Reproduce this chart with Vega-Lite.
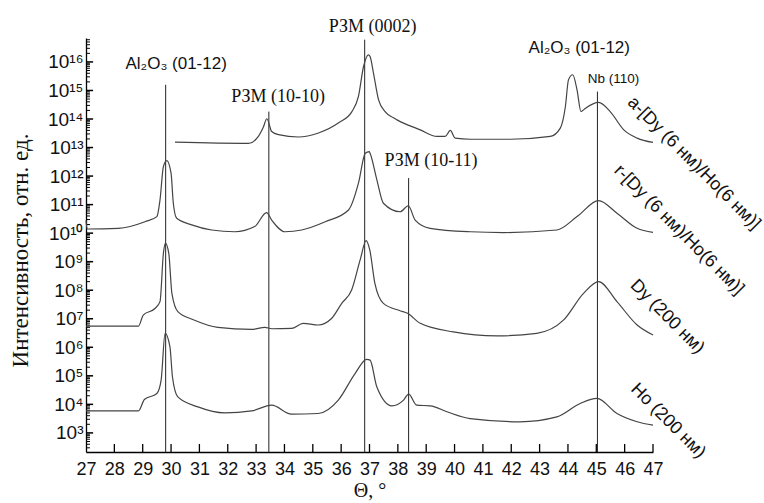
{
  "$schema": "https://vega.github.io/schema/vega-lite/v6.json",
  "width": 567,
  "height": 414,
  "autosize": "none",
  "padding": {"left": 86, "top": 38, "right": 111, "bottom": 51},
  "background": "white",
  "config": {
    "view": {"stroke": null},
    "axis": {"grid": false, "domain": true, "domainColor": "#000", "labelColor": "#111", "titleColor": "#111", "domainWidth": 1.3}
  },
  "datasets": {
    "curves": [
      {"s": "a", "x": 30.14, "y": 1.55e13}, {"s": "a", "x": 32.73, "y": 1.41e13}, {"s": "a", "x": 33.08, "y": 2.45e13},
      {"s": "a", "x": 33.25, "y": 5.0e13}, {"s": "a", "x": 33.38, "y": 1.02e14}, {"s": "a", "x": 33.55, "y": 3.63e13},
      {"s": "a", "x": 33.79, "y": 2.82e13}, {"s": "a", "x": 34.49, "y": 2.34e13}, {"s": "a", "x": 35.2, "y": 3.24e13},
      {"s": "a", "x": 35.9, "y": 7.24e13}, {"s": "a", "x": 36.38, "y": 1.82e14}, {"s": "a", "x": 36.61, "y": 6.17e14},
      {"s": "a", "x": 36.79, "y": 6.92e15}, {"s": "a", "x": 36.96, "y": 1.78e16}, {"s": "a", "x": 37.02, "y": 1.55e16},
      {"s": "a", "x": 37.14, "y": 4.07e15}, {"s": "a", "x": 37.32, "y": 4.68e14}, {"s": "a", "x": 37.55, "y": 1.82e14},
      {"s": "a", "x": 37.83, "y": 1.12e14}, {"s": "a", "x": 37.97, "y": 9.33e13}, {"s": "a", "x": 38.79, "y": 4.17e13},
      {"s": "a", "x": 39.38, "y": 2.45e13}, {"s": "a", "x": 39.67, "y": 2.45e13}, {"s": "a", "x": 39.85, "y": 3.98e13},
      {"s": "a", "x": 40.02, "y": 2.14e13}, {"s": "a", "x": 40.55, "y": 1.95e13}, {"s": "a", "x": 41.97, "y": 1.95e13},
      {"s": "a", "x": 43.38, "y": 2.45e13}, {"s": "a", "x": 43.73, "y": 4.79e13}, {"s": "a", "x": 43.91, "y": 2.75e14},
      {"s": "a", "x": 44.02, "y": 2.4e15}, {"s": "a", "x": 44.17, "y": 3.55e15}, {"s": "a", "x": 44.32, "y": 1.05e15},
      {"s": "a", "x": 44.46, "y": 1.82e14}, {"s": "a", "x": 44.62, "y": 2.4e14}, {"s": "a", "x": 45.08, "y": 3.8e14},
      {"s": "a", "x": 45.49, "y": 1.82e14}, {"s": "a", "x": 45.97, "y": 4.17e13}, {"s": "a", "x": 46.44, "y": 2.14e13},
      {"s": "a", "x": 47.0, "y": 1.51e13},

      {"s": "r", "x": 27.0, "y": 2.8e10}, {"s": "r", "x": 27.04, "y": 1.4e10}, {"s": "r", "x": 28.14, "y": 1.48e10},
      {"s": "r", "x": 29.08, "y": 2.51e10}, {"s": "r", "x": 29.5, "y": 3.8e10}, {"s": "r", "x": 29.61, "y": 1.45e11},
      {"s": "r", "x": 29.73, "y": 2.14e12}, {"s": "r", "x": 29.85, "y": 3.47e12}, {"s": "r", "x": 30.0, "y": 1.26e12},
      {"s": "r", "x": 30.08, "y": 1.12e11}, {"s": "r", "x": 30.2, "y": 3.31e10}, {"s": "r", "x": 30.73, "y": 1.95e10},
      {"s": "r", "x": 31.43, "y": 1.29e10}, {"s": "r", "x": 32.25, "y": 1.12e10}, {"s": "r", "x": 32.95, "y": 1.7e10},
      {"s": "r", "x": 33.37, "y": 5.25e10}, {"s": "r", "x": 33.55, "y": 2.88e10}, {"s": "r", "x": 34.02, "y": 1.12e10},
      {"s": "r", "x": 34.61, "y": 1.29e10}, {"s": "r", "x": 35.44, "y": 2.51e10}, {"s": "r", "x": 36.26, "y": 6.46e10},
      {"s": "r", "x": 36.61, "y": 5.62e11}, {"s": "r", "x": 36.85, "y": 6.31e12}, {"s": "r", "x": 36.99, "y": 7.24e12},
      {"s": "r", "x": 37.02, "y": 6.31e12}, {"s": "r", "x": 37.26, "y": 7.41e11}, {"s": "r", "x": 37.49, "y": 1.12e11},
      {"s": "r", "x": 38.08, "y": 5.62e10}, {"s": "r", "x": 38.37, "y": 9.12e10}, {"s": "r", "x": 38.61, "y": 2.88e10},
      {"s": "r", "x": 39.14, "y": 1.48e10}, {"s": "r", "x": 40.55, "y": 1.12e10}, {"s": "r", "x": 41.73, "y": 1.05e10},
      {"s": "r", "x": 43.61, "y": 1.29e10}, {"s": "r", "x": 44.32, "y": 3.8e10}, {"s": "r", "x": 45.08, "y": 1.38e11},
      {"s": "r", "x": 45.73, "y": 5.01e10}, {"s": "r", "x": 46.44, "y": 1.48e10}, {"s": "r", "x": 47.0, "y": 1.07e10},

      {"s": "dy", "x": 27.0, "y": 5.5e6}, {"s": "dy", "x": 28.85, "y": 5.5e6}, {"s": "dy", "x": 29.02, "y": 1.35e7},
      {"s": "dy", "x": 29.43, "y": 2.29e7}, {"s": "dy", "x": 29.61, "y": 3.98e7}, {"s": "dy", "x": 29.73, "y": 1.95e9},
      {"s": "dy", "x": 29.8, "y": 4.47e9}, {"s": "dy", "x": 29.92, "y": 1.95e9}, {"s": "dy", "x": 30.03, "y": 7.76e7},
      {"s": "dy", "x": 30.24, "y": 1.78e7}, {"s": "dy", "x": 30.83, "y": 8.91e6}, {"s": "dy", "x": 31.65, "y": 5.01e6},
      {"s": "dy", "x": 32.84, "y": 4.27e6}, {"s": "dy", "x": 33.31, "y": 5.01e6}, {"s": "dy", "x": 33.55, "y": 4.47e6},
      {"s": "dy", "x": 34.25, "y": 4.57e6}, {"s": "dy", "x": 34.66, "y": 6.92e6}, {"s": "dy", "x": 35.19, "y": 6.03e6},
      {"s": "dy", "x": 35.66, "y": 1.02e7}, {"s": "dy", "x": 36.02, "y": 3.47e7}, {"s": "dy", "x": 36.37, "y": 1.02e8},
      {"s": "dy", "x": 36.67, "y": 1.15e9}, {"s": "dy", "x": 36.88, "y": 5.5e9}, {"s": "dy", "x": 37.01, "y": 2.57e9},
      {"s": "dy", "x": 37.19, "y": 1.74e8}, {"s": "dy", "x": 37.49, "y": 3.47e7}, {"s": "dy", "x": 38.08, "y": 1.91e7},
      {"s": "dy", "x": 38.34, "y": 1.55e7}, {"s": "dy", "x": 38.79, "y": 6.92e6}, {"s": "dy", "x": 39.96, "y": 3.47e6},
      {"s": "dy", "x": 41.49, "y": 2.51e6}, {"s": "dy", "x": 42.9, "y": 3.09e6}, {"s": "dy", "x": 43.84, "y": 8.91e6},
      {"s": "dy", "x": 44.55, "y": 7.76e7}, {"s": "dy", "x": 45.08, "y": 2.0e8}, {"s": "dy", "x": 45.73, "y": 3.98e7},
      {"s": "dy", "x": 46.44, "y": 6.03e6}, {"s": "dy", "x": 47.0, "y": 2.69e6},

      {"s": "ho", "x": 27.0, "y": 5.89e3}, {"s": "ho", "x": 28.85, "y": 5.89e3}, {"s": "ho", "x": 29.06, "y": 1.48e4},
      {"s": "ho", "x": 29.5, "y": 2.4e4}, {"s": "ho", "x": 29.65, "y": 7.08e4}, {"s": "ho", "x": 29.79, "y": 3.09e6},
      {"s": "ho", "x": 29.96, "y": 1.05e6}, {"s": "ho", "x": 30.05, "y": 9.12e4}, {"s": "ho", "x": 30.24, "y": 1.82e4},
      {"s": "ho", "x": 30.95, "y": 8.13e3}, {"s": "ho", "x": 31.89, "y": 5.01e3}, {"s": "ho", "x": 32.84, "y": 5.89e3},
      {"s": "ho", "x": 33.55, "y": 9.33e3}, {"s": "ho", "x": 34.25, "y": 4.57e3}, {"s": "ho", "x": 35.19, "y": 4.79e3},
      {"s": "ho", "x": 35.9, "y": 1.41e4}, {"s": "ho", "x": 36.49, "y": 1.2e5}, {"s": "ho", "x": 36.9, "y": 3.8e5},
      {"s": "ho", "x": 37.02, "y": 3.55e5}, {"s": "ho", "x": 37.26, "y": 4.07e4}, {"s": "ho", "x": 37.79, "y": 8.91e3},
      {"s": "ho", "x": 38.2, "y": 1.41e4}, {"s": "ho", "x": 38.38, "y": 2.29e4}, {"s": "ho", "x": 38.67, "y": 9.33e3},
      {"s": "ho", "x": 39.14, "y": 8.91e3}, {"s": "ho", "x": 39.73, "y": 5.5e3}, {"s": "ho", "x": 40.55, "y": 3.16e3},
      {"s": "ho", "x": 42.31, "y": 2.45e3}, {"s": "ho", "x": 43.61, "y": 3.63e3}, {"s": "ho", "x": 44.43, "y": 1.07e4},
      {"s": "ho", "x": 45.02, "y": 1.62e4}, {"s": "ho", "x": 45.73, "y": 4.79e3}, {"s": "ho", "x": 46.44, "y": 2.45e3},
      {"s": "ho", "x": 47.0, "y": 1.86e3}
    ],
    "lines": [
      {"x": 29.81, "y": 1.58e15},
      {"x": 33.45, "y": 1.82e14},
      {"x": 36.83, "y": 6.03e16},
      {"x": 38.38, "y": 8.51e11},
      {"x": 45.04, "y": 9.12e14}
    ],
    "xticks": [
      {"x": 28, "y": 214}, {"x": 29, "y": 214}, {"x": 30, "y": 214}, {"x": 31, "y": 214}, {"x": 32, "y": 214},
      {"x": 33, "y": 214}, {"x": 34, "y": 214}, {"x": 35, "y": 214}, {"x": 36, "y": 214}, {"x": 37, "y": 214},
      {"x": 38, "y": 214}, {"x": 39, "y": 214}, {"x": 40, "y": 214}, {"x": 41, "y": 214}, {"x": 42, "y": 214},
      {"x": 43, "y": 214}, {"x": 44, "y": 214}, {"x": 45, "y": 214}, {"x": 46, "y": 214}, {"x": 47, "y": 214}
    ],
    "ymajor": [
      {"x": 27, "y": 1e3}, {"x": 27, "y": 1e4}, {"x": 27, "y": 1e5}, {"x": 27, "y": 1e6}, {"x": 27, "y": 1e7},
      {"x": 27, "y": 1e8}, {"x": 27, "y": 1e9}, {"x": 27, "y": 1e10}, {"x": 27, "y": 1e11}, {"x": 27, "y": 1e12},
      {"x": 27, "y": 1e13}, {"x": 27, "y": 1e14}, {"x": 27, "y": 1e15}, {"x": 27, "y": 1e16}
    ],
    "yminor": [
      {"x": 27, "y": 3e2}, {"x": 27, "y": 4e2}, {"x": 27, "y": 5e2}, {"x": 27, "y": 6e2}, {"x": 27, "y": 7e2}, {"x": 27, "y": 8e2}, {"x": 27, "y": 9e2},
      {"x": 27, "y": 2e3}, {"x": 27, "y": 3e3}, {"x": 27, "y": 4e3}, {"x": 27, "y": 5e3}, {"x": 27, "y": 6e3}, {"x": 27, "y": 7e3}, {"x": 27, "y": 8e3}, {"x": 27, "y": 9e3},
      {"x": 27, "y": 2e4}, {"x": 27, "y": 3e4}, {"x": 27, "y": 4e4}, {"x": 27, "y": 5e4}, {"x": 27, "y": 6e4}, {"x": 27, "y": 7e4}, {"x": 27, "y": 8e4}, {"x": 27, "y": 9e4},
      {"x": 27, "y": 2e5}, {"x": 27, "y": 3e5}, {"x": 27, "y": 4e5}, {"x": 27, "y": 5e5}, {"x": 27, "y": 6e5}, {"x": 27, "y": 7e5}, {"x": 27, "y": 8e5}, {"x": 27, "y": 9e5},
      {"x": 27, "y": 2e6}, {"x": 27, "y": 3e6}, {"x": 27, "y": 4e6}, {"x": 27, "y": 5e6}, {"x": 27, "y": 6e6}, {"x": 27, "y": 7e6}, {"x": 27, "y": 8e6}, {"x": 27, "y": 9e6},
      {"x": 27, "y": 2e7}, {"x": 27, "y": 3e7}, {"x": 27, "y": 4e7}, {"x": 27, "y": 5e7}, {"x": 27, "y": 6e7}, {"x": 27, "y": 7e7}, {"x": 27, "y": 8e7}, {"x": 27, "y": 9e7},
      {"x": 27, "y": 2e8}, {"x": 27, "y": 3e8}, {"x": 27, "y": 4e8}, {"x": 27, "y": 5e8}, {"x": 27, "y": 6e8}, {"x": 27, "y": 7e8}, {"x": 27, "y": 8e8}, {"x": 27, "y": 9e8},
      {"x": 27, "y": 2e9}, {"x": 27, "y": 3e9}, {"x": 27, "y": 4e9}, {"x": 27, "y": 5e9}, {"x": 27, "y": 6e9}, {"x": 27, "y": 7e9}, {"x": 27, "y": 8e9}, {"x": 27, "y": 9e9},
      {"x": 27, "y": 2e10}, {"x": 27, "y": 3e10}, {"x": 27, "y": 4e10}, {"x": 27, "y": 5e10}, {"x": 27, "y": 6e10}, {"x": 27, "y": 7e10}, {"x": 27, "y": 8e10}, {"x": 27, "y": 9e10},
      {"x": 27, "y": 2e11}, {"x": 27, "y": 3e11}, {"x": 27, "y": 4e11}, {"x": 27, "y": 5e11}, {"x": 27, "y": 6e11}, {"x": 27, "y": 7e11}, {"x": 27, "y": 8e11}, {"x": 27, "y": 9e11},
      {"x": 27, "y": 2e12}, {"x": 27, "y": 3e12}, {"x": 27, "y": 4e12}, {"x": 27, "y": 5e12}, {"x": 27, "y": 6e12}, {"x": 27, "y": 7e12}, {"x": 27, "y": 8e12}, {"x": 27, "y": 9e12},
      {"x": 27, "y": 2e13}, {"x": 27, "y": 3e13}, {"x": 27, "y": 4e13}, {"x": 27, "y": 5e13}, {"x": 27, "y": 6e13}, {"x": 27, "y": 7e13}, {"x": 27, "y": 8e13}, {"x": 27, "y": 9e13},
      {"x": 27, "y": 2e14}, {"x": 27, "y": 3e14}, {"x": 27, "y": 4e14}, {"x": 27, "y": 5e14}, {"x": 27, "y": 6e14}, {"x": 27, "y": 7e14}, {"x": 27, "y": 8e14}, {"x": 27, "y": 9e14},
      {"x": 27, "y": 2e15}, {"x": 27, "y": 3e15}, {"x": 27, "y": 4e15}, {"x": 27, "y": 5e15}, {"x": 27, "y": 6e15}, {"x": 27, "y": 7e15}, {"x": 27, "y": 8e15}, {"x": 27, "y": 9e15},
      {"x": 27, "y": 2e16}, {"x": 27, "y": 3e16}, {"x": 27, "y": 4e16}, {"x": 27, "y": 5e16}, {"x": 27, "y": 6e16}
    ],
    "labels": [
      {"k": "sans", "label": "Al₂O₃ (01-12)", "x": 30.18, "y": 8.51e15},
      {"k": "serif", "label": "РЗМ (10-10)", "x": 33.78, "y": 5.75e14},
      {"k": "serif", "label": "РЗМ (0002)", "x": 37.11, "y": 1.66e17},
      {"k": "serif", "label": "РЗМ (10-11)", "x": 39.17, "y": 3.47e12},
      {"k": "sans", "label": "Al₂O₃ (01-12)", "x": 44.40, "y": 3.16e16},
      {"k": "small", "label": "Nb (110)", "x": 45.61, "y": 2.57e15},
      {"k": "rot", "label": "a-[Dy (6 нм)/Ho(6 нм)]", "x": 48.44, "y": 2.82e12},
      {"k": "rot", "label": "r-[Dy (6 нм)/Ho(6 нм)]", "x": 47.91, "y": 1.29e10},
      {"k": "rot", "label": "Dy (200 нм)", "x": 47.5, "y": 1.17e7},
      {"k": "rot", "label": "Ho (200 нм)", "x": 47.53, "y": 2.63e3}
    ]
  },
  "encoding": {
    "x": {
      "field": "x", "type": "quantitative",
      "scale": {"domain": [27, 47], "nice": false, "zero": false},
      "axis": {
        "title": "Θ, °",
        "titleFont": "Liberation Serif", "titleFontSize": 20, "titleFontWeight": "normal",
        "titleY": 38, "titleBaseline": "middle",
        "values": [27,28,29,30,31,32,33,34,35,36,37,38,39,40,41,42,43,44,45,46,47],
        "format": "d",
        "ticks": false,
        "labelPadding": 8,
        "labelFont": "Liberation Sans", "labelFontSize": 18,
        "labelOverlap": false, "labelFlush": false
      }
    },
    "y": {
      "field": "y", "type": "quantitative",
      "scale": {"type": "log", "domain": [214, 6.9e16], "nice": false},
      "axis": {
        "title": "Интенсивность, отн. ед.",
        "titleFont": "Liberation Serif", "titleFontSize": 23, "titleFontWeight": "normal",
        "titleX": -66, "titleY": 212, "titleAlign": "center", "titleBaseline": "middle",
        "values": [1e3,1e4,1e5,1e6,1e7,1e8,1e9,1e10,1e11,1e12,1e13,1e14,1e15,1e16],
        "labelExpr": "'10' + (round(log(datum.value)/LN10) >= 10 ? '¹' : '') + ['⁰','¹','²','³','⁴','⁵','⁶','⁷','⁸','⁹'][round(log(datum.value)/LN10) % 10]",
        "ticks": false,
        "labelPadding": 3,
        "labelFont": "Liberation Sans", "labelFontSize": 19,
        "labelOverlap": false, "labelFlush": false
      }
    }
  },
  "layer": [
    {
      "data": {"name": "xticks"},
      "mark": {"type": "rule", "color": "#000", "strokeWidth": 1.3},
      "encoding": {"y2": {"datum": 409}}
    },
    {
      "data": {"name": "ymajor"},
      "mark": {"type": "rule", "color": "#000", "strokeWidth": 1.5},
      "encoding": {"x2": {"datum": 27.25}}
    },
    {
      "data": {"name": "yminor"},
      "mark": {"type": "rule", "color": "#000", "strokeWidth": 1},
      "encoding": {"x2": {"datum": 27.14}}
    },
    {
      "data": {"name": "lines"},
      "mark": {"type": "rule", "color": "#222", "strokeWidth": 1},
      "encoding": {"y2": {"datum": 214}}
    },
    {
      "data": {"name": "curves"},
      "mark": {"type": "line", "color": "#444", "strokeWidth": 1.2, "interpolate": "monotone"},
      "encoding": {"detail": {"field": "s"}}
    },
    {
      "data": {"name": "labels"},
      "transform": [{"filter": "datum.k == 'sans'"}],
      "mark": {"type": "text", "font": "Liberation Sans", "fontSize": 17, "color": "#111", "align": "center", "baseline": "middle"},
      "encoding": {"text": {"field": "label"}}
    },
    {
      "data": {"name": "labels"},
      "transform": [{"filter": "datum.k == 'serif'"}],
      "mark": {"type": "text", "font": "Liberation Serif", "fontSize": 18, "color": "#111", "align": "center", "baseline": "middle"},
      "encoding": {"text": {"field": "label"}}
    },
    {
      "data": {"name": "labels"},
      "transform": [{"filter": "datum.k == 'small'"}],
      "mark": {"type": "text", "font": "Liberation Sans", "fontSize": 13.5, "color": "#111", "align": "center", "baseline": "middle"},
      "encoding": {"text": {"field": "label"}}
    },
    {
      "data": {"name": "labels"},
      "transform": [{"filter": "datum.k == 'rot'"}],
      "mark": {"type": "text", "font": "Liberation Sans", "fontSize": 18, "color": "#111", "align": "center", "baseline": "middle", "angle": 45},
      "encoding": {"text": {"field": "label"}}
    }
  ]
}
